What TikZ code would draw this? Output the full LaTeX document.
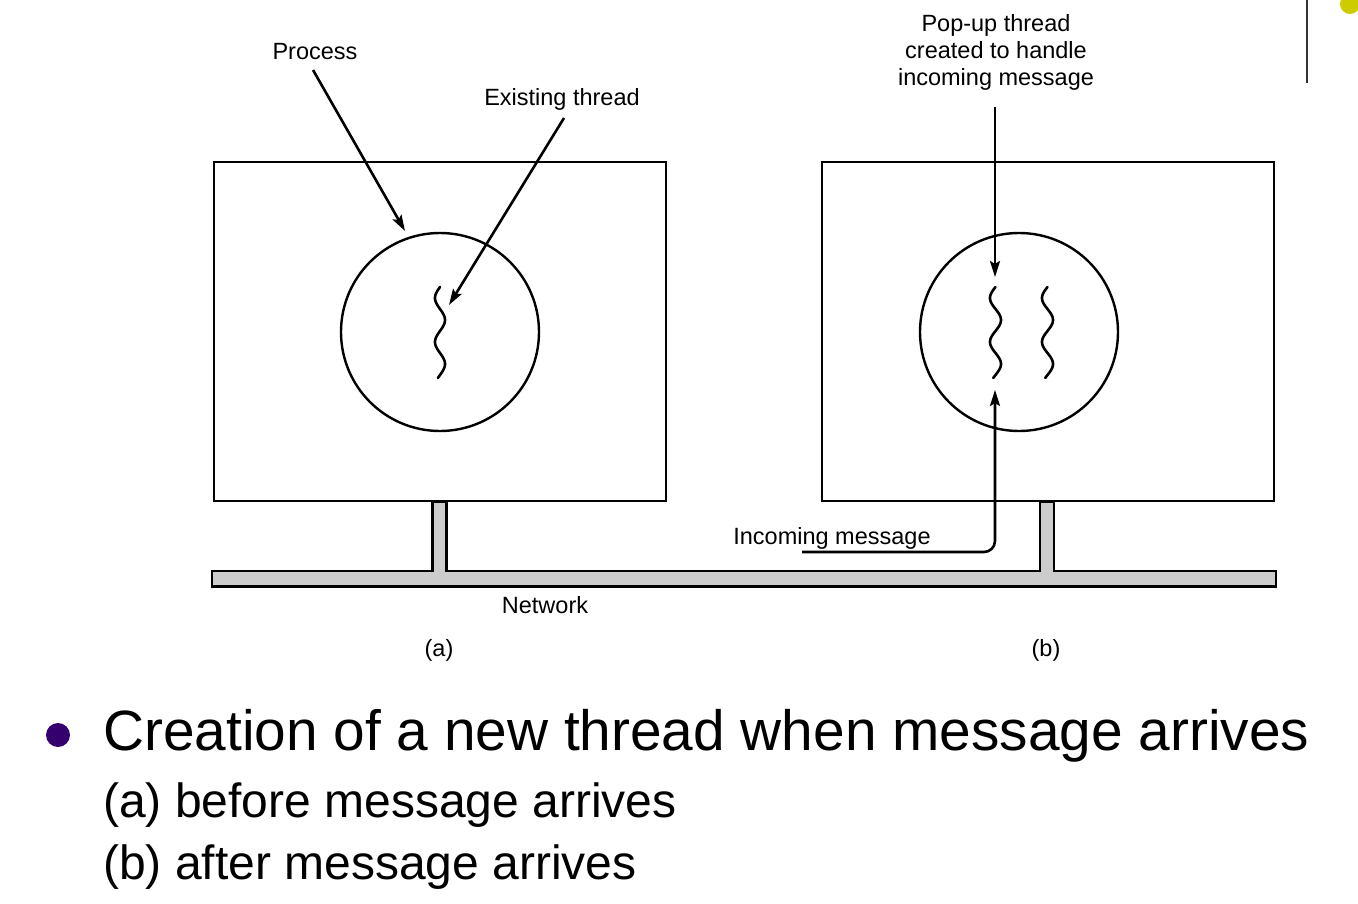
\documentclass[tikz,border=0pt]{standalone}
\usepackage{fontspec}
\setmainfont{Liberation Sans}
\usetikzlibrary{arrows.meta}
\definecolor{netgray}{RGB}{204,204,204}
\definecolor{bulletpurple}{RGB}{51,0,110}
\definecolor{dotyellow}{RGB}{204,204,0}
\begin{document}
\begin{tikzpicture}[x=1pt,y=-1pt,
  lbl/.style={anchor=base,inner sep=0pt,font=\fontsize{23.5}{27}\selectfont},
  big/.style={anchor=base west,inner sep=0pt,font=\fontsize{56.8}{60}\selectfont},
  sub/.style={anchor=base west,inner sep=0pt,font=\fontsize{48}{52}\selectfont},
  frame/.style={draw,line width=2.4pt,minimum width=452pt,minimum height=339pt,inner sep=0pt},
  proc/.style={circle,draw,line width=2.4pt,minimum size=198pt,inner sep=0pt},
  arr/.style={line width=2.6pt,-{Stealth[length=16pt,width=10pt,inset=3pt]}},
  thr/.style={line width=2.6pt,line cap=round}]
\useasboundingbox (0,0) rectangle (1358,904);

% decorations at top right
\fill[dotyellow] (1350,4) circle[radius=10];
\draw[line width=2pt,black!80] (1307,0) -- (1307,83);

% boxes and processes
\node[frame] (boxa) at (440,331.5) {};
\node[frame] (boxb) at (1048,331.5) {};
\node[proc] (pa) at (440,332) {};
\node[proc] (pb) at (1019,332) {};

% threads
\draw[thr] plot[domain=-11:80,samples=70,smooth] ({440-5*cos(8.1818*\x)},{298+\x});
\draw[thr] plot[domain=-11:80,samples=70,smooth] ({995.5-5.5*cos(8.1818*\x)},{298+\x});
\draw[thr] plot[domain=-11:80,samples=70,smooth] ({1047.5-5.5*cos(8.1818*\x)},{298+\x});

% network
\draw[line width=2.4pt,fill=netgray] (212,571) -- (432.5,571) -- (432.5,502) -- (446.5,502) -- (446.5,571)
  -- (1040,571) -- (1040,502) -- (1054,502) -- (1054,571) -- (1276,571) -- (1276,586.5) -- (212,586.5) -- cycle;

% labels
\node[lbl] (lproc) at (315,60) {Process};
\node[lbl] (lexist) at (562,106) {Existing thread};
\node[lbl,align=center,anchor=north] (lpop) at (996,14) {Pop-up thread\\created to handle\\incoming message};
\node[lbl] (lin) at (832,544) {Incoming message};
\node[lbl] (lnet) at (545,613) {Network};
\node[lbl] (la) at (439,656) {(a)};
\node[lbl] (lb) at (1046,656) {(b)};

% connectors
\coordinate (procs) at (313,70);
\coordinate (proct) at (405,231);
\coordinate (exs) at (564,118);
\coordinate (ext) at (449,305);
\coordinate (pops) at (995,107);
\coordinate (popt) at (995,277);
\coordinate (ins) at (802,552);
\coordinate (inc) at (995,552);
\coordinate (int) at (995,390);
\draw[arr] (procs) -- (proct);
\draw[arr] (exs) -- (ext);
\draw[arr] (pops) -- (popt);
\draw[arr,rounded corners=11pt] (ins) -- (inc) -- (int);

% bullet text
\fill[bulletpurple] (58,735) circle[radius=12];
\node[big] (t1) at (103,750) {Creation of a new thread when message arrives};
\node[sub] (t2) at (103,817) {(a) before message arrives};
\node[sub] (t3) at (103,879) {(b) after message arrives};
\end{tikzpicture}
\end{document}
